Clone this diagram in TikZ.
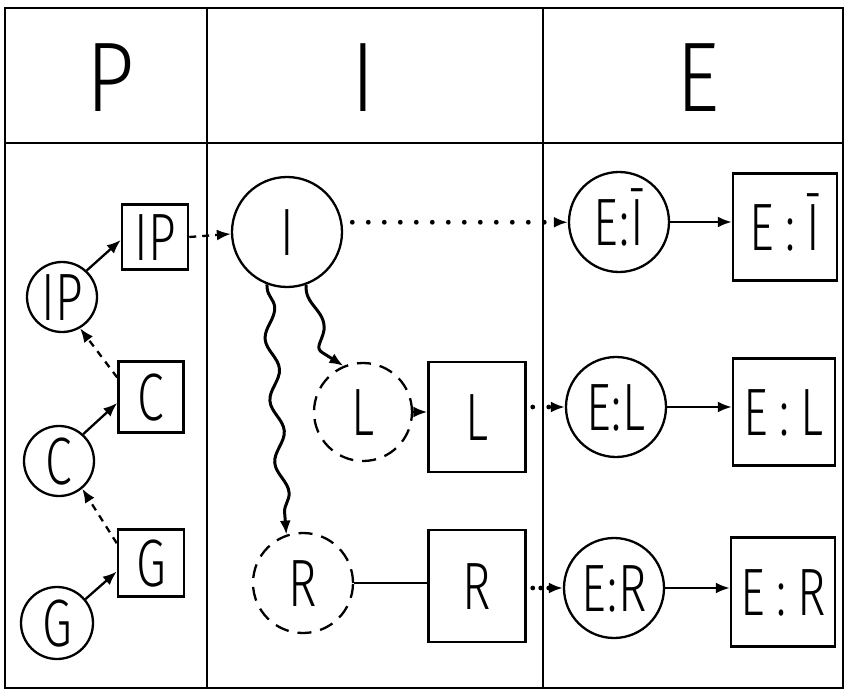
\documentclass[tikz,border=0pt]{standalone}
\usepackage{fontspec}
\newfontfamily\handhead{Fira Sans}[UprightFont=* Light, FakeStretch=0.85]
\newfontfamily\handlbl{Fira Sans}[UprightFont=* Light, FakeStretch=0.72]
\usetikzlibrary{arrows.meta,decorations.pathmorphing,calc}

\tikzset{
  head/.style={font={\handhead\fontsize{99pt}{99pt}\selectfont}, anchor=base, inner sep=0pt},
  lbl/.style={font={\handlbl\fontsize{67pt}{67pt}\selectfont}, text height=46pt, text depth=0pt},
  ring/.style={lbl, circle, draw, line width=2.3pt, minimum size=#1, inner sep=0pt},
  dring/.style={ring=#1, dash pattern=on 14pt off 9pt},
  box/.style 2 args={lbl, rectangle, draw, line width=2.5pt, minimum width=#1, minimum height=#2, inner sep=0pt},
  arr/.style={-{Latex[length=14pt,width=11pt]}},
  solidline/.style={line width=2.3pt},
  dashline/.style={line width=2.3pt, dash pattern=on 7pt off 6pt},
  dotline/.style={line width=4.8pt, line cap=round, dash pattern=on 0pt off 16pt},
  densedots/.style={line width=4.8pt, line cap=round, dash pattern=on 0pt off 8pt},
  wave/.style={line width=3pt, decorate,
    decoration={snake, segment length=62pt, amplitude=6pt, pre length=4pt, post length=16pt}},
  curvy/.style={line width=3pt},
  frame/.style={line width=2.8pt},
  rule/.style={line width=1.8pt}
}

\begin{document}
\begin{tikzpicture}[x=1pt,y=-1pt]
\useasboundingbox (0,0) rectangle (848,698);

% table frame and column rules
\draw[frame] (5,8) rectangle (843,688);
\draw[frame] (5,143) -- (843,143);
\draw[rule] (207,8) -- (207,688);
\draw[rule] (543,8) -- (543,688);

% column headings
\node[head] (hP) at (110,112) {P};
\node[head] (hI) at (363,112) {I};
\node[head] (hE) at (698,112) {E};

% first column
\node[ring=70pt] (IPc) at (62,297) {IP};
\node[box={66pt}{65pt}] (IPb) at (155,237) {IP};
\node[box={65pt}{71pt}] (Cb) at (151,397) {C};
\node[ring=70pt] (Cc) at (59,461) {C};
\node[box={66pt}{67pt}] (Gb) at (151,563) {G};
\node[ring=72pt] (Gc) at (57,623) {G};

% second column
\node[ring=110pt] (I) at (287,232) {I};
\node[dring=98pt] (Lc) at (363,412) {L};
\node[box={97pt}{110pt}] (Lb) at (477,417) {L};
\node[dring=100pt] (Rc) at (303,583) {R};
\node[box={97pt}{112pt}] (Rb) at (477,586) {R};

% third column
\node[ring=100pt] (ETc) at (619,222) {E\kern1pt:\kern1ptĪ};
\node[box={104pt}{107pt}] (ETb) at (785,227) {E\,:\,Ī};
\node[ring=100pt] (ELc) at (616,407) {E\kern1pt:\kern1ptL};
\node[box={102pt}{107pt}] (ELb) at (784,412) {E\,:\,L};
\node[ring=100pt] (ERc) at (614,588) {E\kern1pt:\kern1ptR};
\node[box={104pt}{109pt}] (ERb) at (783,592) {E\,:\,R};

% connectors, first column
\draw[solidline, arr] (IPc.47) -- (IPb.185);
\draw[solidline, arr] (Cc.48) -- (Cb.190);
\draw[solidline, arr] (Gc.40) -- (Gb.194);
\draw[dashline, arr] (Cb.150) -- (IPc.300);
\draw[dashline, arr] (Gb.150) -- (Cc.310);
\draw[dashline, arr] (IPb.east) -- (I.182);

% connectors, second column
\draw[wave, arr] (I.249) -- (Rc.109);
\draw[curvy, arr] (I.290) .. controls (304,305) and (326,310) .. (324,330)
  .. controls (322,342) and (314,348) .. (323,353) -- (Lc.113);
\draw[solidline, arr] (Lc.east) -- (Lc.east -| Lb.west);
\draw[solidline] (Rc.east) -- (Rc.east -| Rb.west);

% connectors into the third column
\draw[dotline, arr, shorten <=10pt] (I.10) -- (I.10 -| ETc.west);
\draw[dotline, arr, shorten <=6pt] (ELc.west -| Lb.east) -- (ELc.west);
\draw[densedots, arr, shorten <=6pt] (ERc.west -| Rb.east) -- (ERc.west);
\draw[solidline, arr] (ETc.east) -- (ETc.east -| ETb.west);
\draw[solidline, arr] (ELc.east) -- (ELc.east -| ELb.west);
\draw[solidline, arr] (ERc.east) -- (ERc.east -| ERb.west);
\end{tikzpicture}
\end{document}
